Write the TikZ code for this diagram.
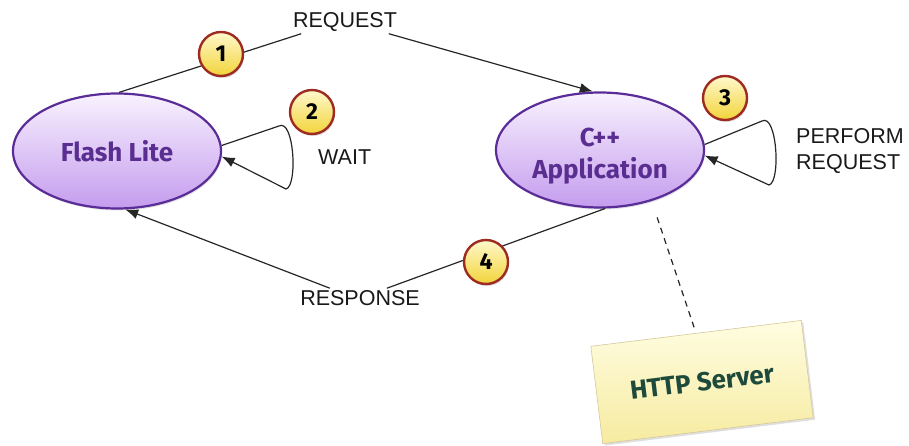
\documentclass[tikz,border=0pt]{standalone}
\usepackage{fontspec}
\setmainfont{Liberation Sans}
\newfontfamily\elfont{Fira Sans}
\usetikzlibrary{shapes.geometric,arrows.meta,shadows}
\definecolor{pborder}{HTML}{5A2C98}
\definecolor{ptop}{HTML}{F8F2FE}
\definecolor{pbot}{HTML}{C59CEE}
\definecolor{ptext}{HTML}{5A2D90}
\definecolor{bred}{HTML}{9E2B22}
\definecolor{ytop}{HTML}{FFF8CC}
\definecolor{ybot}{HTML}{F2D43A}
\definecolor{ntop}{HTML}{FFFDE2}
\definecolor{nbot}{HTML}{F6EBA0}
\definecolor{nborder}{HTML}{D4C89A}
\definecolor{ntext}{HTML}{1E4A3C}
\begin{document}
\begin{tikzpicture}[x=1pt,y=-1pt,
  state/.style={ellipse, draw=pborder, line width=2.2pt, top color=ptop, bottom color=pbot,
    minimum width=208pt, minimum height=115pt, inner sep=0pt, text=ptext, align=center,
    font=\elfont\bfseries\fontsize{26}{32}\selectfont,
    drop shadow={opacity=0.25, shadow xshift=1pt, shadow yshift=-2pt}},
  badge/.style={circle, draw=bred, line width=2.4pt, top color=ytop, bottom color=ybot,
    minimum size=44pt, inner sep=0pt, font=\elfont\bfseries\fontsize{23}{23}\selectfont,
    drop shadow={opacity=0.3, shadow xshift=1pt, shadow yshift=-2pt}},
  lbl/.style={font=\fontsize{21.5}{26}\selectfont, text=black!90, inner sep=2pt},
  conn/.style={line width=1.2pt, black!85},
  arr/.style={conn, -{Latex[length=13pt,width=10pt]}},
  note/.style={rectangle, draw=nborder, line width=0.6pt, top color=ntop, bottom color=nbot,
    minimum width=212pt, minimum height=98pt, rotate=7, text=ntext,
    font=\elfont\bfseries\fontsize{26}{30}\selectfont,
    drop shadow={opacity=0.25, shadow xshift=2pt, shadow yshift=-2pt}}
]
\useasboundingbox (0,0) rectangle (909,446);

\node[state] (fl) at (117,151) {Flash Lite};
\node[state] (cpp) at (600,150) {\rule{0pt}{30pt}C++\\Application};

\node[lbl] (req) at (345,22) {REQUEST};
\node[lbl] (resp) at (360,298) {RESPONSE};
\node[lbl, anchor=west] (wait) at (316,157) {WAIT};
\node[lbl, anchor=west, align=left, font=\fontsize{21.5}{26}\selectfont] (perf) at (794,151) {PERFORM\\REQUEST};

\node[note] (srv) at (702,382) {HTTP Server};
\coordinate (dtop) at (656,214);

% request
\draw[conn] (fl.88) -- (req.195);
\draw[arr] (req.-15) -- (cpp.97);
% response
\draw[conn] (cpp.-85) -- (resp.20);
\draw[arr] (resp.162) -- (fl.-82);
% self loops
\draw[arr] (fl.3) -- (279,126) .. controls (294,118) and (298,186) .. (286,189) -- (fl.-3);
\draw[arr] (cpp.3) -- (762,121) .. controls (777,113) and (781,182) .. (769,185) -- (cpp.-3);
% dashed
\draw[conn, dash pattern=on 6pt off 5pt, shorten <=6pt] (srv.north) -- (dtop);

\node[badge] (b1) at (221,54) {1};
\node[badge] (b2) at (312,112) {2};
\node[badge] (b3) at (725,98) {3};
\node[badge] (b4) at (486,262) {4};
\end{tikzpicture}
\end{document}
